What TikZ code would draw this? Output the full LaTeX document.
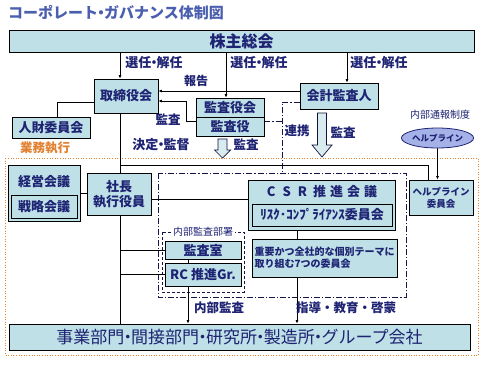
\documentclass[tikz,border=0pt]{standalone}
\usepackage{fontspec}
\setmainfont{Noto Sans CJK JP}
\usetikzlibrary{arrows.meta,backgrounds,calc,shapes.geometric}
\definecolor{nv}{RGB}{30,35,115}
\definecolor{bx}{RGB}{190,224,230}
\definecolor{org}{RGB}{225,130,50}
\definecolor{ttl}{RGB}{75,95,175}
\definecolor{hlf}{RGB}{165,178,232}
\newcommand\nd{\kern-0.3em・\kern-0.3em}
\begin{document}
\begin{tikzpicture}[x=1pt,y=-1pt,
 box/.style={draw=black, line width=0.8pt, fill=bx, inner sep=0pt, text=nv, font=\fontsize{13}{15}\selectfont\bfseries},
 lbl/.style={text=nv, inner sep=0pt, font=\fontsize{12}{14}\selectfont\bfseries},
 small/.style={text=nv, inner sep=1.5pt, font=\fontsize{10}{12}\selectfont},
 ln/.style={line width=0.8pt, draw=black},
 arr/.style={ln, -{Latex[length=3.5pt,width=3pt]}},
 ddot/.style={line width=0.7pt, draw=nv!60!black, dash pattern=on 6pt off 2pt on 1.2pt off 2pt},
 hollow/.style={fill=bx!60!white, draw=nv!50!black, line width=0.7pt},
]
\useasboundingbox (0,0) rectangle (490,365);

% title
\node[font=\fontsize{15}{17}\selectfont\bfseries, text=ttl, anchor=west, inner sep=0pt] (title) at (8,13) {コーポレート\nd ガバナンス体制図};

% boxes
\node[box, minimum width=465pt, minimum height=22pt, font=\fontsize{16}{18}\selectfont\bfseries] (kabu) at (241.5,41) {株主総会};
\node[box, minimum width=64pt, minimum height=34pt] (tori) at (126,96) {取締役会};
\node[box, minimum width=68pt, minimum height=19pt] (kyk) at (230,107.5) {監査役会};
\node[box, minimum width=68pt, minimum height=19pt] (ky) at (230,126.5) {監査役};
\node[box, minimum width=78pt, minimum height=26pt] (kaikei) at (339,96) {会計監査人};
\node[box, minimum width=78pt, minimum height=21pt] (jinzai) at (51,127.5) {人財委員会};
\node[box, minimum width=72pt, minimum height=56pt] (keiei) at (44,193) {};
\node[lbl, font=\fontsize{13}{15}\selectfont\bfseries] (keieit) at (44,182) {経営会議};
\node[box, minimum width=66pt, minimum height=23pt] (senryaku) at (44,206.5) {戦略会議};
\node[box, minimum width=64pt, minimum height=42pt, align=center, font=\fontsize{13}{15}\selectfont\bfseries] (shacho) at (119,194) {社長\\執行役員};
\node[box, minimum width=147pt, minimum height=50pt] (csr) at (321.5,205) {};
\node[lbl, font=\fontsize{13}{15}\selectfont\bfseries] (csrt) at (322,192) {C\kern7pt S\kern7pt R\kern6pt 推\kern4pt 進\kern4pt 会\kern4pt 議};
\node[box, minimum width=140pt, minimum height=22pt] (risk) at (322,215) {ﾘｽｸ･ｺﾝﾌﾟﾗｲｱﾝｽ委員会};
\node[box, minimum width=145pt, minimum height=38pt, align=left, font=\fontsize{10}{12}\selectfont\bfseries] (juyo) at (324.5,258) {重要かつ全社的な個別テーマに\\取り組む7つの委員会};
\node[box, minimum width=64pt, minimum height=35pt, align=center, font=\fontsize{9.5}{12}\selectfont\bfseries] (help) at (441,197.5) {ヘルプライン\\委員会};
\node[ellipse, draw=nv, line width=0.8pt, fill=hlf, minimum width=63pt, minimum height=20pt, inner sep=0pt, text=nv, font=\fontsize{8.5}{10}\selectfont\bfseries] (hl) at (437.5,138) {ヘルプライン};
\node[box, minimum width=76pt, minimum height=18pt] (ks) at (203,250) {監査室};
\node[box, minimum width=76pt, minimum height=23pt] (rc) at (203,274.5) {RC 推進Gr.};
\node[box, minimum width=461pt, minimum height=26pt, font=\fontsize{17}{19}\selectfont] (jigyo) at (239.5,337) {事業部門\nd 間接部門\nd 研究所\nd 製造所\nd グループ会社};

% labels
\node[lbl, font=\fontsize{13}{15}\selectfont\bfseries] (l1) at (154,63) {選任\nd 解任};
\node[lbl, font=\fontsize{13}{15}\selectfont\bfseries] (l2) at (259,63) {選任\nd 解任};
\node[lbl, font=\fontsize{13}{15}\selectfont\bfseries] (l3) at (379,63) {選任\nd 解任};
\node[lbl] (l4) at (196,81) {報告};
\node[lbl, font=\fontsize{12.5}{14}\selectfont\bfseries] (l5) at (168,120) {監査};
\node[lbl, font=\fontsize{13}{15}\selectfont\bfseries] (l6) at (161,145) {決定\nd 監督};
\node[lbl, font=\fontsize{12.5}{14}\selectfont\bfseries] (l7) at (246,145) {監査};
\node[lbl, font=\fontsize{12.5}{14}\selectfont\bfseries] (l8) at (297,131) {連携};
\node[lbl, font=\fontsize{12.5}{14}\selectfont\bfseries] (l9) at (343,133) {監査};
\node[lbl, font=\fontsize{12.5}{14}\selectfont\bfseries] (l10) at (219,308) {内部監査};
\node[lbl, font=\fontsize{12.5}{14}\selectfont\bfseries] (l11) at (346,308) {指導・教育・啓蒙};
\node[lbl, text=org, font=\fontsize{12.5}{14}\selectfont\bfseries] (l12) at (45,148) {業務執行};
\node[small] (l13) at (440,115) {内部通報制度};

% hollow arrows
\draw[hollow] (317.5,113) -- (326.5,113) -- (326.5,145) -- (332,145) -- (322,157) -- (312,145) -- (317.5,145) -- cycle;
\draw[hollow] (218,139) -- (227,139) -- (227,150) -- (230.5,150) -- (222.5,158) -- (214.5,150) -- (218,150) -- cycle;

% coordinates
\coordinate (t1) at ($(tori.north)+(-6,0)$);
\coordinate (k1) at ($(kyk.north)+(-4,0)$);
\coordinate (a1) at ($(kaikei.north)+(8,0)$);
\coordinate (tE1) at ($(tori.east)+(0,-5)$);
\coordinate (tE2) at ($(tori.east)+(0,5)$);
\coordinate (kyW) at ($(ky.west)+(0,-5.5)$);
\coordinate (tW) at ($(tori.west)+(0,6)$);
\coordinate (jN) at ($(jinzai.north)+(6,0)$);
\coordinate (tS) at ($(tori.south)+(-6,0)$);
\coordinate (j1) at ($(tS)+(0,52)$);
\coordinate (hN) at ($(help.north)+(-13,0)$);
\coordinate (sE) at ($(shacho.east)+(0,5)$);
\coordinate (ksS) at ($(ks.south)+(-15,0)$);
\coordinate (cS) at ($(csr.south)+(-24.5,0)$);
\coordinate (kaW) at ($(kaikei.west)+(0,6)$);
\coordinate (dd) at (282,173);

\begin{scope}[on background layer]
\fill[white] (0,0) rectangle (490,365);
\draw[org, line width=0.6pt, dotted] (5,158) rectangle (478,355);
\draw[ddot] (158,173) rectangle (406,297);
\draw[line width=0.7pt, draw=nv!60!black, dash pattern=on 3pt off 2pt] (162,232) rectangle (244,292);
\draw[ddot] (kaW) -| (dd);
\draw[ddot] (kyW -| ky.east) -- (kyW -| dd);
\draw[arr] (t1 |- kabu.south) -- (t1);
\draw[arr] (k1 |- kabu.south) -- (k1);
\draw[arr] (a1 |- kabu.south) -- (a1);
\draw[arr] (tE1 -| kaikei.west) -- (tE1);
\draw[arr] (kyW) -- ++(-9,0) |- (tE2);
\draw[ln] (tW) -| (jN);
\draw[ln] (tS) -- (tS |- jigyo.north);
\draw[ln] (j1) -| (hN);
\draw[ln] (keiei.east) -- (keiei.east -| shacho.west);
\draw[ln] (sE) -- (sE -| csr.west);
\draw[ln] (ks.west -| tS) -- (ks.west);
\draw[ln] (rc.west -| tS) -- (rc.west);
\draw[ln] (ksS) -- (ksS |- rc.north);
\draw[arr] (ksS |- rc.south) -- (ksS |- jigyo.north);
\draw[ln] (cS) -- (cS |- juyo.north);
\draw[arr] (cS |- juyo.south) -- (cS |- jigyo.north);
\draw[arr] (hl.south) -- (hl.south |- help.north);
\end{scope}
\node[small, fill=white] (l14) at (203,232) {内部監査部署};
\end{tikzpicture}
\end{document}
